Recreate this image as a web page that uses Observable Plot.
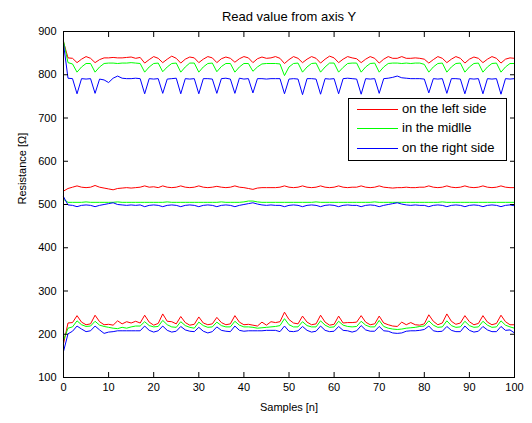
<!DOCTYPE html>
<html>
<head>
<meta charset="utf-8">
<script src="https://cdn.jsdelivr.net/npm/d3@7"></script>
<script src="https://cdn.jsdelivr.net/npm/@observablehq/plot@0.6"></script>
<style>
  html, body { margin: 0; padding: 0; background: #fff; }
  #chart { position: relative; width: 532px; height: 423px; font-family: Arial, "Liberation Sans", sans-serif; }
  #legend { position: absolute; left: 348px; top: 98px; width: 157px; height: 61px;
            border: 1px solid #000; background: #fff; font-size: 13px; color: #000; }
  #legend .row { position: absolute; left: 0; height: 16px; line-height: 16px; white-space: nowrap; }
  #legend .swatch { position: absolute; left: 8px; top: 8px; width: 41px; height: 0; border-top: 1px solid; }
  #legend .label { position: absolute; left: 53px; top: 0; }
</style>
</head>
<body>
<div id="chart"><div id="legend"></div></div>
<script>
// Resistance readings, one value per sample n = 0..100, three probe positions at three levels
const leftTop = [876,839,838,828,836,842,838,828,835,839,
  839,840,839,839,840,841,838,840,827,835,
  842,838,828,836,843,838,827,836,841,839,
  828,836,842,839,828,837,841,838,829,837,
  842,839,828,837,841,838,839,842,838,826,
  835,842,838,828,836,842,838,827,836,843,
  839,828,836,842,839,837,828,836,842,838,
  827,836,842,838,838,842,838,838,839,838,
  836,827,835,842,838,828,836,842,838,827,
  836,841,838,828,836,842,838,827,836,839,838];
const midTop = [878,828,825,806,818,826,826,806,818,826,
  827,827,826,827,827,828,827,826,806,818,
  826,827,807,818,826,827,806,818,827,827,
  806,818,826,827,807,819,826,826,806,818,
  826,826,808,818,825,826,826,826,825,798,
  818,826,827,806,818,826,827,806,818,827,
  827,806,817,826,827,827,806,818,826,827,
  806,818,826,827,827,826,827,826,827,827,
  824,806,818,826,827,806,818,826,827,806,
  818,826,827,806,818,826,827,806,818,826,826];
const rightTop = [872,792,791,756,791,790,791,757,790,788,
  782,792,797,792,791,791,792,791,756,791,
  790,791,757,790,791,792,756,791,790,791,
  756,791,791,790,757,791,792,790,757,792,
  790,791,758,791,791,790,791,791,791,756,
  790,791,790,754,791,791,790,755,791,790,
  791,756,791,792,791,790,755,791,790,791,
  757,791,792,794,797,793,792,791,791,791,
  790,758,791,790,791,757,791,791,790,756,
  791,790,791,756,791,790,791,755,791,790,791];

const leftMid = [531,537,540,543,540,539,540,544,540,538,
  536,534,537,538,539,538,539,540,543,540,
  541,539,543,540,539,540,543,540,539,540,
  543,540,539,540,542,540,539,540,543,540,
  539,537,535,538,539,539,539,539,540,543,
  540,539,540,543,540,539,540,543,540,539,
  540,543,540,539,540,540,543,540,539,540,
  543,540,539,538,539,539,540,539,539,540,
  540,543,540,539,540,543,540,539,540,543,
  540,539,540,543,540,539,540,543,540,539,539];
const midMid = [512,505,505,505,505,506,505,505,505,505,
  505,505,506,505,505,505,505,505,505,505,
  505,505,505,506,505,505,505,505,505,505,
  505,505,505,505,505,506,505,505,505,505,
  506,508,508,506,505,505,505,505,505,505,
  505,505,505,505,505,505,506,505,505,505,
  505,505,505,505,505,505,505,505,505,506,
  505,505,505,505,505,505,505,505,505,505,
  505,505,505,505,506,505,505,505,505,505,
  505,505,505,505,505,505,505,505,505,505,505];
const rightMid = [518,499,498,495,498,499,498,495,498,500,
  502,504,500,499,498,499,498,499,495,498,
  499,498,495,498,499,498,495,498,499,498,
  495,498,499,498,495,498,499,498,495,498,
  500,502,504,501,499,498,499,498,498,495,
  498,499,498,495,498,499,498,495,498,499,
  498,495,498,499,498,498,495,498,499,498,
  495,498,500,502,504,501,499,498,499,498,
  498,495,498,499,498,495,498,499,498,495,
  498,499,498,495,498,499,498,495,498,499,497];

const leftLow = [178,226,227,243,228,222,224,244,229,222,
  223,221,231,224,229,226,230,226,244,228,
  221,225,247,230,229,224,241,227,221,223,
  240,226,222,224,239,227,222,224,243,228,
  222,223,221,219,228,221,229,227,229,251,
  234,226,224,242,228,222,224,244,228,221,
  223,242,226,227,227,228,243,228,222,224,
  242,226,222,219,218,228,222,227,222,221,
  224,245,230,222,226,247,230,223,226,243,
  229,222,225,243,228,222,225,244,229,222,222];
const midLow = [186,214,217,231,222,218,219,230,221,218,
  216,214,213,216,214,217,219,219,229,220,
  217,218,232,222,217,216,229,220,216,214,
  228,220,216,217,228,220,217,217,230,221,
  217,217,216,214,215,216,217,218,220,236,
  222,217,217,229,220,217,217,231,221,216,
  217,230,221,218,217,218,230,221,217,217,
  232,218,214,212,211,212,214,215,216,218,
  219,231,221,216,217,231,220,216,217,230,
  220,216,217,230,221,216,217,231,221,217,214];
const rightLow = [160,201,207,219,212,206,208,219,210,202,
  205,206,208,208,208,208,208,208,219,209,
  205,208,219,209,205,207,218,210,207,206,
  216,207,203,206,217,209,207,206,219,209,
  207,208,208,208,208,209,209,209,206,219,
  207,206,208,218,209,205,207,219,209,206,
  207,218,209,208,205,208,220,210,207,207,
  218,208,207,203,202,203,207,208,208,209,
  211,219,208,206,207,218,209,206,206,219,
  209,205,207,218,210,206,206,218,209,210,203];

const seriesNames = ["on the left side", "in the midlle", "on the right side"];
const seriesColors = ["#ff0000", "#00ff00", "#0000ff"];
const seriesLevels = [
  [leftTop, leftMid, leftLow],
  [midTop, midMid, midLow],
  [rightTop, rightMid, rightLow]
];

const xTicks = [0, 10, 20, 30, 40, 50, 60, 70, 80, 90, 100];
const yTicks = [100, 200, 300, 400, 500, 600, 700, 800, 900];

const titleText = "Read value from axis Y";
const xLabel = "Samples [n]";
const yLabel = "Resistance [\u03A9]";

// Long-format rows for each probe position
const lineMarks = seriesNames.map((name, s) => {
  const rows = [];
  seriesLevels[s].forEach((values, level) => {
    values.forEach((r, n) => rows.push({n, r, level}));
  });
  return Plot.line(rows, {x: "n", y: "r", z: "level", stroke: seriesColors[s], strokeWidth: 1});
});

const chart = Plot.plot({
  width: 532,
  height: 423,
  marginTop: 31,
  marginRight: 18,
  marginBottom: 46,
  marginLeft: 63,
  style: {fontFamily: "Arial, 'Liberation Sans', sans-serif", fontSize: "11px", color: "#000", background: "#fff", overflow: "visible"},
  x: {domain: [0, 100]},
  y: {domain: [100, 900]},
  marks: [
    ...lineMarks,
    Plot.frame({stroke: "#000", strokeWidth: 1}),
    // inward ticks on all four sides
    Plot.axisX(xTicks, {anchor: "bottom", tickSize: -5, fill: "none", stroke: "#000"}),
    Plot.axisX(xTicks, {anchor: "top", tickSize: -5, fill: "none", stroke: "#000"}),
    Plot.axisY(yTicks, {anchor: "left", tickSize: -5, fill: "none", stroke: "#000"}),
    Plot.axisY(yTicks, {anchor: "right", tickSize: -5, fill: "none", stroke: "#000"}),
    // tick labels
    Plot.axisX(xTicks, {anchor: "bottom", tickSize: 0, tickPadding: 6, label: null, fill: "#000"}),
    Plot.axisY(yTicks, {anchor: "left", tickSize: 0, tickPadding: 7, label: null, fill: "#000"}),
    // title and axis titles
    Plot.text([titleText], {frameAnchor: "top", dy: -20, text: d => d, fill: "#000", fontSize: 13}),
    Plot.text([xLabel], {frameAnchor: "bottom", dy: 33, text: d => d, fill: "#000", fontSize: 11}),
    Plot.text([yLabel], {frameAnchor: "left", dx: -41, rotate: -90, text: d => d, fill: "#000", fontSize: 11})
  ]
});

const container = document.getElementById("chart");
container.insertBefore(chart, container.firstChild);

// Legend box
const legend = document.getElementById("legend");
const rowTops = [2, 21, 41];
seriesNames.forEach((name, s) => {
  const row = document.createElement("div");
  row.className = "row";
  row.style.top = rowTops[s] + "px";
  row.innerHTML = `<span class="swatch" style="border-top-color:${seriesColors[s]}"></span><span class="label">${name}</span>`;
  legend.appendChild(row);
});
</script>
</body>
</html>
